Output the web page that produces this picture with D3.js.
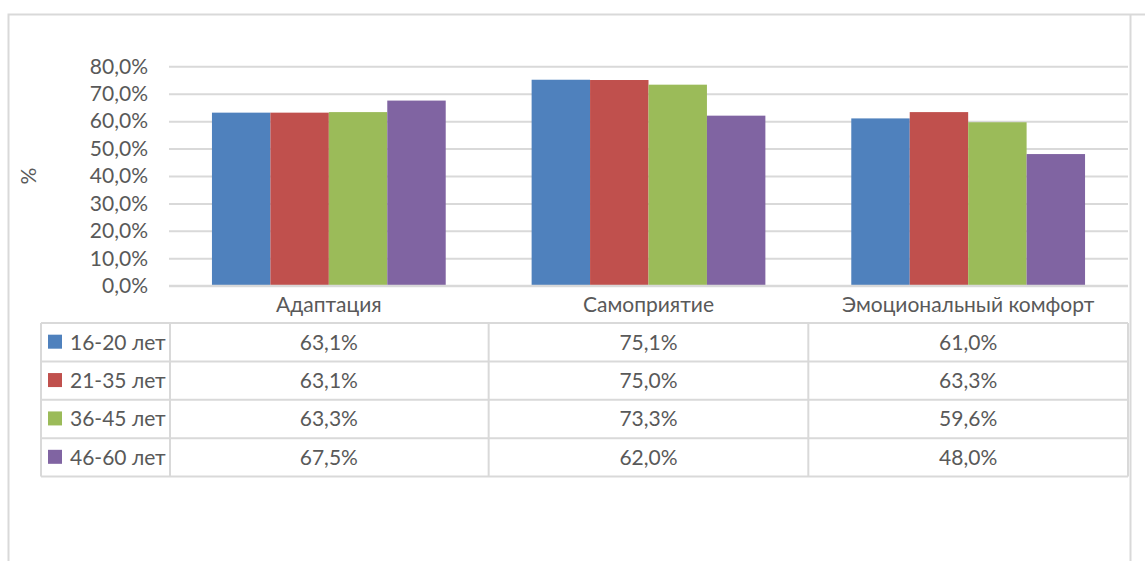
<!DOCTYPE html>
<html>
<head>
<meta charset="utf-8">
<script src="https://cdn.jsdelivr.net/npm/d3@7"></script>
<style>
  body { margin: 0; background: #fff; }
  svg text { font-family: Lato, "Open Sans", sans-serif; fill: #595959; }
</style>
</head>
<body>
<div id="chart"></div>
<script>
// data
const categories = ["Адаптация", "Самоприятие", "Эмоциональный комфорт"];
const seriesNames = ["16-20 лет", "21-35 лет", "36-45 лет", "46-60 лет"];
const values = [
  [0.631, 0.751, 0.610],
  [0.631, 0.750, 0.633],
  [0.633, 0.733, 0.596],
  [0.675, 0.620, 0.480]
];
const yTicks = [0, 0.1, 0.2, 0.3, 0.4, 0.5, 0.6, 0.7, 0.8];
const colors = ["#4f81bd", "#c0504d", "#9bbb59", "#8064a2"];

const W = 1145, H = 561;
const plot = {left: 169, right: 1128, top: 66.3, bottom: 285.7};
const table = {left: 41, labelCol: 170, top: 323, bottom: 476.5};
const gridColor = "#d9d9d9";

const ru = d3.formatLocale({decimal: ",", thousands: " ", grouping: [3], currency: ["", ""]});
const pct = ru.format(".1%");

const svg = d3.select("#chart").append("svg")
    .attr("width", W)
    .attr("height", H);

svg.append("rect").attr("width", W).attr("height", H).attr("fill", "#fff");

// outer chart border
svg.append("path")
    .attr("d", `M8.5,${H} V14.5 H${W} M1130.5,14.5 V${H}`)
    .attr("fill", "none")
    .attr("stroke", gridColor)
    .attr("stroke-width", 2);

// scales
const y = d3.scaleLinear().domain([0, 0.8]).range([plot.bottom, plot.top]);
const x0 = d3.scaleBand().domain(categories).range([plot.left, plot.right]);
const gapRatio = 1.47; // gap width relative to bar width
const barW = x0.bandwidth() / (seriesNames.length + gapRatio);
const x1 = d3.scaleBand()
    .domain(seriesNames)
    .range([barW * gapRatio / 2, x0.bandwidth() - barW * gapRatio / 2]);

// y axis with gridlines
const yAxis = d3.axisLeft(y)
    .tickValues(yTicks)
    .tickFormat(pct)
    .tickSizeInner(-(plot.right - plot.left))
    .tickSizeOuter(0)
    .tickPadding(21);

const yG = svg.append("g")
    .attr("transform", `translate(${plot.left},0)`)
    .call(yAxis);
yG.select(".domain").remove();
yG.selectAll(".tick line").attr("stroke", gridColor).attr("stroke-width", 2);
yG.selectAll(".tick text")
    .style("font-size", "21px")
    .style("font-family", "Lato, sans-serif")
    .attr("fill", "#595959");

// y title
svg.append("text")
    .attr("transform", "translate(36,176) rotate(-90)")
    .attr("text-anchor", "middle")
    .style("font-size", "21px")
    .text("%");

// bars
const groups = svg.selectAll(".cat")
    .data(categories)
    .enter().append("g")
    .attr("class", "cat")
    .attr("transform", d => `translate(${x0(d)},0)`);

groups.selectAll("rect")
    .data((c, ci) => seriesNames.map((s, si) => ({s: s, si: si, v: values[si][ci]})))
    .enter().append("rect")
    .attr("x", d => x1(d.s))
    .attr("width", x1.bandwidth())
    .attr("y", d => y(d.v))
    .attr("height", d => y(0) - y(d.v))
    .attr("fill", d => colors[d.si]);

// redraw baseline over bars
svg.append("line")
    .attr("x1", plot.left).attr("x2", plot.right)
    .attr("y1", y(0)).attr("y2", y(0))
    .attr("stroke", gridColor).attr("stroke-width", 2);

// category labels (header row of the data table)
svg.selectAll(".cat-label")
    .data(categories)
    .enter().append("text")
    .attr("class", "cat-label")
    .attr("x", d => x0(d) + x0.bandwidth() / 2)
    .attr("y", (plot.bottom + table.top) / 2)
    .attr("dy", "0.35em")
    .attr("text-anchor", "middle")
    .style("font-size", "21px")
    .text(d => d);

// data table
const rowY = d3.scaleBand().domain(seriesNames).range([table.top, table.bottom]);

const tableG = svg.append("g");
const hLines = [table.top].concat(seriesNames.map(s => rowY(s) + rowY.bandwidth()));
tableG.selectAll(".hline")
    .data(hLines)
    .enter().append("line")
    .attr("x1", table.left).attr("x2", plot.right)
    .attr("y1", d => d).attr("y2", d => d)
    .attr("stroke", gridColor).attr("stroke-width", 2);

const vLines = [table.left, table.labelCol].concat(categories.slice(1).map(c => x0(c)), [plot.right]);
tableG.selectAll(".vline")
    .data(vLines)
    .enter().append("line")
    .attr("x1", d => d).attr("x2", d => d)
    .attr("y1", table.top).attr("y2", table.bottom)
    .attr("stroke", gridColor).attr("stroke-width", 2);

const rows = tableG.selectAll(".row")
    .data(seriesNames)
    .enter().append("g")
    .attr("class", "row")
    .attr("transform", d => `translate(0,${rowY(d) + rowY.bandwidth() / 2})`);

rows.append("rect")
    .attr("x", 48).attr("y", -7.5)
    .attr("width", 14).attr("height", 14)
    .attr("fill", (d, i) => colors[i]);

rows.append("text")
    .attr("x", 70)
    .attr("dy", "0.35em")
    .style("font-size", "21px")
    .text(d => d);

rows.selectAll(".val")
    .data((s, si) => categories.map((c, ci) => ({c: c, v: values[si][ci]})))
    .enter().append("text")
    .attr("class", "val")
    .attr("x", d => x0(d.c) + x0.bandwidth() / 2)
    .attr("dy", "0.35em")
    .attr("text-anchor", "middle")
    .style("font-size", "21px")
    .text(d => pct(d.v));
</script>
</body>
</html>
